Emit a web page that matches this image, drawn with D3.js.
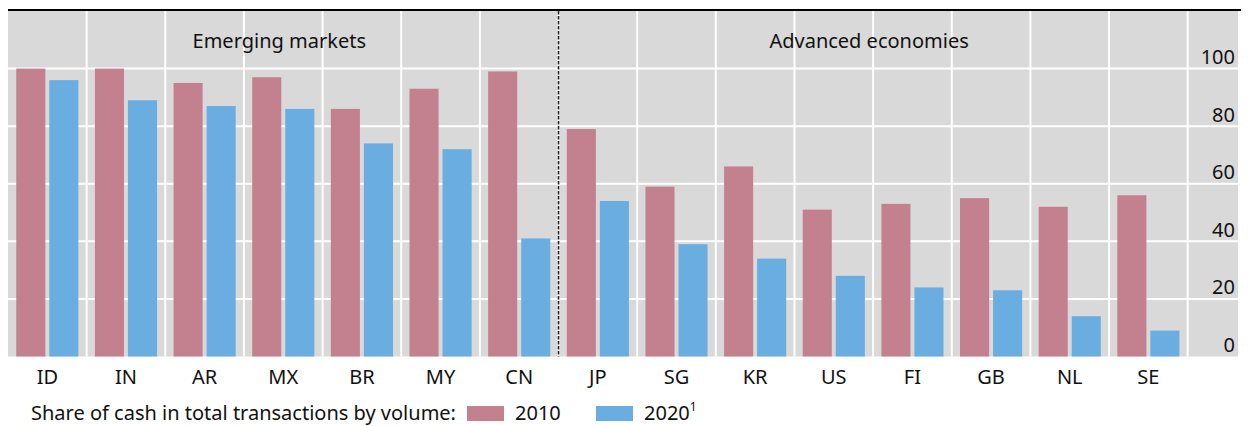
<!DOCTYPE html>
<meta charset="utf-8">
<style>
    body { margin: 0; background: #fff; }
    svg text { font-family: "Noto Sans", sans-serif; fill: #111; }
    .grid line { stroke: #fff; stroke-width: 2px; }
</style>
<svg width="1250" height="426"></svg>
<script src="https://d3js.org/d3.v7.min.js"></script>
<script>
    // share of cash in total transactions by volume, per cent
    const countries = ["ID", "IN", "AR", "MX", "BR", "MY", "CN", "JP", "SG", "KR", "US", "FI", "GB", "NL", "SE"];
    const cash2010 = [100, 100, 95, 97, 86, 93, 99, 79, 59, 66, 51, 53, 55, 52, 56];
    const cash2020 = [96, 89, 87, 86, 74, 72, 41, 54, 39, 34, 28, 24, 23, 14, 9];
    const years = ["2010", "2020"];
    const yTicks = [0, 20, 40, 60, 80, 100];
    const groups = [
        {name: "Emerging markets", from: "ID", to: "CN"},
        {name: "Advanced economies", from: "JP", to: "SE"}
    ];

    const colors = {"2010": "#c3808f", "2020": "#6aade0"};
    const fontSize = "20px";

    let svg = d3.select("svg");

    const plotLeft = 8, plotRight = 1238, bandEnd = 1187.7, plotTop = 11, plotBottom = 356.5;

    let x = d3.scaleBand()
        .domain(countries)
        .range([plotLeft, bandEnd])
        .padding(0);

    let xSub = d3.scaleBand()
        .domain(years)
        .range([0, x.bandwidth()])
        .paddingInner(0.12)
        .paddingOuter(0.25);

    let y = d3.scaleLinear()
        .domain([0, 120])
        .range([plotBottom, plotTop]);

    //grey plot background
    svg.append("rect")
        .attr("x", plotLeft)
        .attr("y", plotTop)
        .attr("width", plotRight - plotLeft)
        .attr("height", plotBottom - plotTop)
        .attr("fill", "#d9d9d9");

    //white gridlines
    let grid = svg.append("g").attr("class", "grid");
    grid.selectAll("line.h")
        .data(yTicks.filter(d => d > 0))
        .enter().append("line")
        .attr("x1", plotLeft).attr("x2", plotRight)
        .attr("y1", d => y(d)).attr("y2", d => y(d));
    grid.selectAll("line.v")
        .data(countries.slice(1).map(c => x(c)).concat([x(countries[countries.length - 1]) + x.bandwidth()]))
        .enter().append("line")
        .attr("x1", d => d).attr("x2", d => d)
        .attr("y1", plotTop).attr("y2", plotBottom);

    //bars
    const rows = countries.map((c, i) => ({country: c, "2010": cash2010[i], "2020": cash2020[i]}));
    svg.append("g")
        .selectAll("g")
        .data(rows)
        .enter().append("g")
        .attr("transform", d => "translate(" + x(d.country) + ",0)")
        .selectAll("rect")
        .data(d => years.map(yr => ({year: yr, value: d[yr]})))
        .enter().append("rect")
        .attr("x", d => xSub(d.year))
        .attr("width", xSub.bandwidth())
        .attr("y", d => y(d.value))
        .attr("height", d => y(0) - y(d.value))
        .attr("fill", d => colors[d.year]);

    //dashed divider between the two groups
    const divX = x(groups[1].from);
    svg.append("line")
        .attr("x1", divX).attr("x2", divX)
        .attr("y1", plotTop).attr("y2", plotBottom)
        .attr("stroke", "#fff").attr("stroke-width", 2);
    svg.append("line")
        .attr("x1", divX).attr("x2", divX)
        .attr("y1", plotTop).attr("y2", plotBottom)
        .attr("stroke", "#222").attr("stroke-width", 1.6)
        .attr("stroke-dasharray", "3.5,1.5");

    //group titles
    svg.append("g")
        .selectAll("text")
        .data(groups)
        .enter().append("text")
        .attr("x", d => (x(d.from) + x(d.to) + x.bandwidth()) / 2 - 4)
        .attr("y", 48)
        .attr("text-anchor", "middle")
        .style("font-size", fontSize)
        .text(d => d.name);

    //top rule
    svg.append("line")
        .attr("x1", plotLeft).attr("x2", 1241)
        .attr("y1", 10).attr("y2", 10)
        .attr("stroke", "#000").attr("stroke-width", 2);

    //y axis labels, sitting above the gridlines on the right
    let yAxis = svg.append("g")
        .attr("transform", "translate(1235,0)")
        .call(d3.axisLeft(y).tickValues(yTicks).tickSize(0).tickPadding(0));
    yAxis.select(".domain").remove();
    yAxis.selectAll("text")
        .attr("dy", null)
        .attr("y", -5)
        .style("font-size", fontSize)
        .style("font-family", null);

    //x axis labels
    let xAxis = svg.append("g")
        .attr("transform", "translate(0," + plotBottom + ")")
        .call(d3.axisBottom(x).tickSize(0).tickPadding(13));
    xAxis.select(".domain").remove();
    xAxis.selectAll("text")
        .style("font-size", fontSize)
        .style("font-family", null);

    //legend
    let legend = svg.append("g").attr("transform", "translate(0,420)");
    legend.append("text")
        .attr("x", 31).attr("y", 0)
        .style("font-size", fontSize)
        .text("Share of cash in total transactions by volume:");
    const legendX = {"2010": 467, "2020": 596};
    years.forEach(yr => {
        legend.append("rect")
            .attr("x", legendX[yr]).attr("y", -14)
            .attr("width", 37).attr("height", 15)
            .attr("fill", colors[yr]);
        let t = legend.append("text")
            .attr("x", legendX[yr] + 48).attr("y", 0)
            .style("font-size", fontSize)
            .text(yr);
        if (yr === "2020") {
            t.append("tspan")
                .attr("dy", -9)
                .style("font-size", "12px")
                .text("1");
        }
    });
</script>
<body>
</body>
